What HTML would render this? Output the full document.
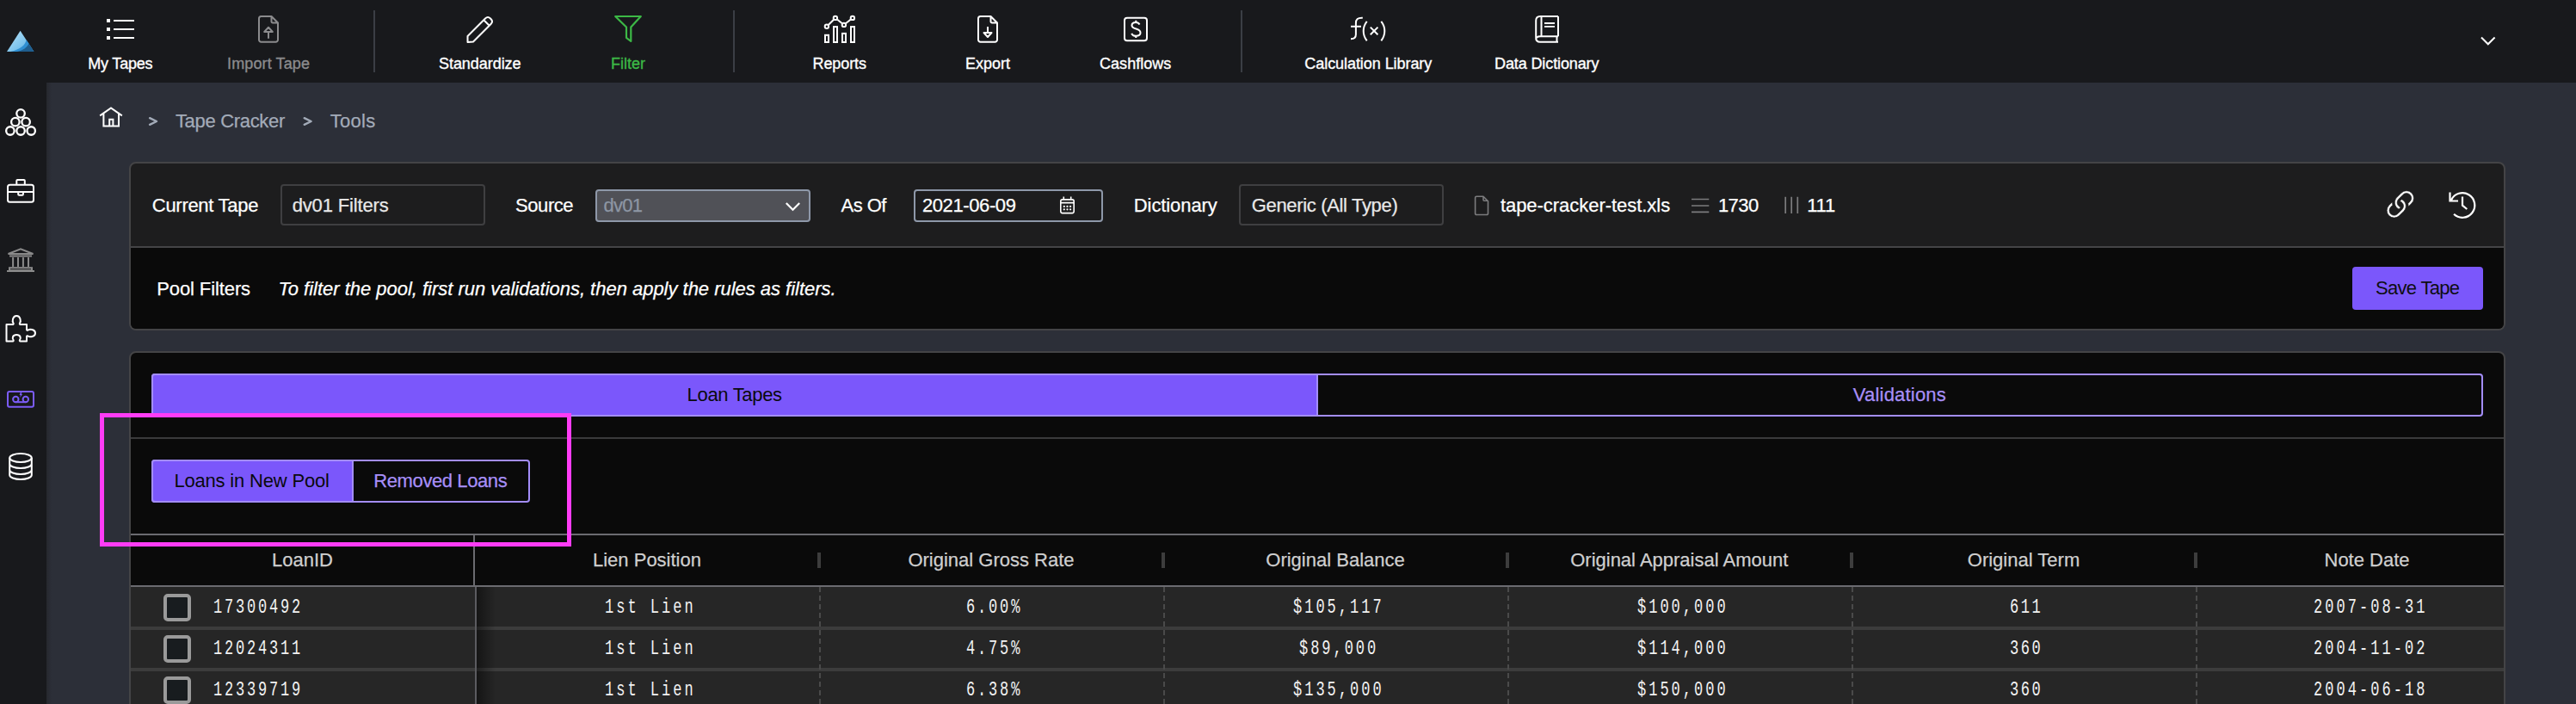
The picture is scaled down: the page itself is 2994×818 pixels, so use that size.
<!DOCTYPE html>
<html><head><meta charset="utf-8">
<style>
*{box-sizing:border-box;margin:0;padding:0}
html,body{width:2994px;height:818px;overflow:hidden;background:#2c2f38;font-family:"Liberation Sans",sans-serif}
.t{position:absolute;white-space:nowrap}
.b{position:absolute}
svg{position:absolute;overflow:visible}
</style></head><body>
<div class="b" style="left:0;top:0;width:54px;height:818px;background:#18191c"></div>
<div class="b" style="left:54px;top:0;width:2940px;height:96px;background:#18191c"></div>
<div class="b" style="left:54px;top:96px;width:6px;height:722px;background:linear-gradient(90deg,#26282e,#2c2f38)"></div>
<div class="b" style="left:434px;top:12px;width:2px;height:72px;background:#3b3e45"></div>
<div class="b" style="left:852px;top:12px;width:2px;height:72px;background:#3b3e45"></div>
<div class="b" style="left:1442px;top:12px;width:2px;height:72px;background:#3b3e45"></div>
<div class="t" style="left:102.3px;top:65.3px;font-size:18px;line-height:18px;color:#fff;letter-spacing:-0.20px;font-family:'Liberation Sans';-webkit-text-stroke:0.35px #fff;">My Tapes</div>
<div class="t" style="left:264.0px;top:65.3px;font-size:18px;line-height:18px;color:#8b8b8d;letter-spacing:0.13px;font-family:'Liberation Sans';-webkit-text-stroke:0.35px #8b8b8d;">Import Tape</div>
<div class="t" style="left:510.0px;top:65.3px;font-size:18px;line-height:18px;color:#fff;letter-spacing:-0.05px;font-family:'Liberation Sans';-webkit-text-stroke:0.35px #fff;">Standardize</div>
<div class="t" style="left:710.0px;top:65.3px;font-size:18px;line-height:18px;color:#3cb846;letter-spacing:0.00px;font-family:'Liberation Sans';-webkit-text-stroke:0.35px #3cb846;">Filter</div>
<div class="t" style="left:944.5px;top:65.3px;font-size:18px;line-height:18px;color:#fff;letter-spacing:-0.09px;font-family:'Liberation Sans';-webkit-text-stroke:0.35px #fff;">Reports</div>
<div class="t" style="left:1122.0px;top:65.3px;font-size:18px;line-height:18px;color:#fff;letter-spacing:0.00px;font-family:'Liberation Sans';-webkit-text-stroke:0.35px #fff;">Export</div>
<div class="t" style="left:1278.0px;top:65.3px;font-size:18px;line-height:18px;color:#fff;letter-spacing:0.04px;font-family:'Liberation Sans';-webkit-text-stroke:0.35px #fff;">Cashflows</div>
<div class="t" style="left:1516.3px;top:65.3px;font-size:18px;line-height:18px;color:#fff;letter-spacing:-0.06px;font-family:'Liberation Sans';-webkit-text-stroke:0.35px #fff;">Calculation Library</div>
<div class="t" style="left:1737.0px;top:65.3px;font-size:18px;line-height:18px;color:#fff;letter-spacing:-0.11px;font-family:'Liberation Sans';-webkit-text-stroke:0.35px #fff;">Data Dictionary</div>
<div class="t" style="left:203.9px;top:130.0px;font-size:22px;line-height:22px;color:#a3abb8;letter-spacing:-0.31px;font-family:'Liberation Sans';-webkit-text-stroke:0.25px #a3abb8;">Tape Cracker</div>
<div class="t" style="left:383.7px;top:130.0px;font-size:22px;line-height:22px;color:#a3abb8;letter-spacing:0.29px;font-family:'Liberation Sans';-webkit-text-stroke:0.25px #a3abb8;">Tools</div>
<div class="b" style="left:150px;top:188px;width:2762px;height:196px;border:2px solid #444446;border-radius:8px;background:#1d1d1e;overflow:hidden"><div class="b" style="left:0;top:96px;width:2762px;height:98px;background:#0a0a0a;border-top:2px solid #444446"></div></div>
<div class="t" style="left:176.8px;top:228.0px;font-size:22px;line-height:22px;color:#fff;letter-spacing:-0.29px;font-family:'Liberation Sans';-webkit-text-stroke:0.25px #fff;">Current Tape</div>
<div class="b" style="left:326px;top:214px;width:238px;height:48px;border:2px solid #3f3f41;border-radius:4px"></div>
<div class="t" style="left:339.7px;top:228.0px;font-size:22px;line-height:22px;color:#e8e8e8;letter-spacing:-0.15px;font-family:'Liberation Sans';-webkit-text-stroke:0.25px #e8e8e8;">dv01 Filters</div>
<div class="t" style="left:599.0px;top:228.0px;font-size:22px;line-height:22px;color:#fff;letter-spacing:-0.42px;font-family:'Liberation Sans';-webkit-text-stroke:0.25px #fff;">Source</div>
<div class="b" style="left:692px;top:220px;width:250px;height:38px;border:2px solid #8e98a9;border-radius:4px;background:#505157"></div>
<div class="t" style="left:701.6px;top:228.0px;font-size:22px;line-height:22px;color:#8d96a4;letter-spacing:-0.80px;font-family:'Liberation Sans';-webkit-text-stroke:0.25px #8d96a4;">dv01</div>
<div class="t" style="left:977.5px;top:228.0px;font-size:22px;line-height:22px;color:#fff;letter-spacing:-0.51px;font-family:'Liberation Sans';-webkit-text-stroke:0.25px #fff;">As Of</div>
<div class="b" style="left:1062px;top:220px;width:220px;height:38px;border:2px solid #8e98a9;border-radius:4px;background:#1d1d1e"></div>
<div class="t" style="left:1071.9px;top:228.0px;font-size:22px;line-height:22px;color:#fff;letter-spacing:-0.39px;font-family:'Liberation Sans';-webkit-text-stroke:0.25px #fff;">2021-06-09</div>
<div class="t" style="left:1317.8px;top:228.0px;font-size:22px;line-height:22px;color:#fff;letter-spacing:-0.09px;font-family:'Liberation Sans';-webkit-text-stroke:0.25px #fff;">Dictionary</div>
<div class="b" style="left:1440px;top:214px;width:238px;height:48px;border:2px solid #3f3f41;border-radius:4px"></div>
<div class="t" style="left:1454.7px;top:228.0px;font-size:22px;line-height:22px;color:#e8e8e8;letter-spacing:-0.33px;font-family:'Liberation Sans';-webkit-text-stroke:0.25px #e8e8e8;">Generic (All Type)</div>
<div class="t" style="left:1743.9px;top:228.0px;font-size:22px;line-height:22px;color:#fff;letter-spacing:-0.04px;font-family:'Liberation Sans';-webkit-text-stroke:0.25px #fff;">tape-cracker-test.xls</div>
<div class="t" style="left:1996.9px;top:228.0px;font-size:22px;line-height:22px;color:#fff;letter-spacing:-0.55px;font-family:'Liberation Sans';-webkit-text-stroke:0.25px #fff;">1730</div>
<div class="t" style="left:2100.3px;top:228.0px;font-size:22px;line-height:22px;color:#fff;letter-spacing:-0.28px;font-family:'Liberation Sans';-webkit-text-stroke:0.25px #fff;">111</div>
<div class="t" style="left:182.2px;top:324.5px;font-size:22px;line-height:22px;color:#fff;letter-spacing:-0.10px;font-family:'Liberation Sans';-webkit-text-stroke:0.25px #fff;">Pool Filters</div>
<div class="t" style="left:323.4px;top:324.5px;font-size:22px;line-height:22px;color:#fff;letter-spacing:-0.02px;font-family:'Liberation Sans';-webkit-text-stroke:0.25px #fff;font-style:italic;">To filter the pool, first run validations, then apply the rules as filters.</div>
<div class="b" style="left:2734px;top:310px;width:152px;height:50px;background:#7b57fb;border-radius:4px"></div>
<div class="t" style="left:2760.9px;top:323.8px;font-size:22px;line-height:22px;color:#0e0e12;letter-spacing:-0.67px;font-family:'Liberation Sans';-webkit-text-stroke:0;">Save Tape</div>
<div class="b" style="left:150px;top:408px;width:2762px;height:500px;border:2px solid #444446;border-radius:8px;background:#0a0a0a;overflow:hidden"></div>
<div class="b" style="left:176px;top:434px;width:2710px;height:50px;border:2px solid #a38df9;border-radius:4px;background:#0a0a0a"></div>
<div class="b" style="left:176px;top:434px;width:1356px;height:50px;border:2px solid #a38df9;border-radius:4px 0 0 4px;background:#7b57fb"></div>
<div class="t" style="left:798.6px;top:448.0px;font-size:22px;line-height:22px;color:#0a0a0e;letter-spacing:-0.32px;font-family:'Liberation Sans';-webkit-text-stroke:0;">Loan Tapes</div>
<div class="t" style="left:2153.8px;top:448.0px;font-size:22px;line-height:22px;color:#a88ff8;letter-spacing:0.20px;font-family:'Liberation Sans';-webkit-text-stroke:0.25px #a88ff8;">Validations</div>
<div class="b" style="left:152px;top:508px;width:2758px;height:2px;background:#3a3a3b"></div>
<div class="b" style="left:176px;top:534px;width:440px;height:50px;border:2px solid #a38df9;border-radius:4px;background:#0a0a0a"></div>
<div class="b" style="left:176px;top:534px;width:235px;height:50px;border:2px solid #a38df9;border-radius:4px 0 0 4px;background:#7b57fb"></div>
<div class="t" style="left:202.4px;top:548.0px;font-size:22px;line-height:22px;color:#0a0a0e;letter-spacing:-0.18px;font-family:'Liberation Sans';-webkit-text-stroke:0;">Loans in New Pool</div>
<div class="t" style="left:434.3px;top:548.0px;font-size:22px;line-height:22px;color:#a88ff8;letter-spacing:-0.40px;font-family:'Liberation Sans';-webkit-text-stroke:0.25px #a88ff8;">Removed Loans</div>
<div class="b" style="left:152px;top:620px;width:2758px;height:2px;background:#6b6b70"></div>
<div class="b" style="left:152px;top:682px;width:2758px;height:136px;background:#262626"></div>
<div class="b" style="left:152px;top:680px;width:2758px;height:2px;background:#6b6b70"></div>
<div class="b" style="left:152px;top:728px;width:2758px;height:4px;background:#3c3c3c"></div>
<div class="b" style="left:152px;top:776px;width:2758px;height:4px;background:#3c3c3c"></div>
<div class="b" style="left:550px;top:622px;width:2px;height:58px;background:#6b6b70"></div>
<div class="b" style="left:552px;top:682px;width:2px;height:136px;background:#5c5c60"></div>
<div class="b" style="left:554px;top:682px;width:22px;height:136px;background:linear-gradient(90deg,rgba(0,0,0,.45),rgba(0,0,0,0))"></div>
<div class="b" style="left:950px;top:642px;width:4px;height:18px;background:#3d3d3d"></div>
<div class="b" style="left:952px;top:682px;width:2px;height:136px;background:repeating-linear-gradient(180deg,#4a4a4a 0 6px,transparent 6px 10px)"></div>
<div class="b" style="left:1350px;top:642px;width:4px;height:18px;background:#3d3d3d"></div>
<div class="b" style="left:1352px;top:682px;width:2px;height:136px;background:repeating-linear-gradient(180deg,#4a4a4a 0 6px,transparent 6px 10px)"></div>
<div class="b" style="left:1750px;top:642px;width:4px;height:18px;background:#3d3d3d"></div>
<div class="b" style="left:1752px;top:682px;width:2px;height:136px;background:repeating-linear-gradient(180deg,#4a4a4a 0 6px,transparent 6px 10px)"></div>
<div class="b" style="left:2150px;top:642px;width:4px;height:18px;background:#3d3d3d"></div>
<div class="b" style="left:2152px;top:682px;width:2px;height:136px;background:repeating-linear-gradient(180deg,#4a4a4a 0 6px,transparent 6px 10px)"></div>
<div class="b" style="left:2550px;top:642px;width:4px;height:18px;background:#3d3d3d"></div>
<div class="b" style="left:2552px;top:682px;width:2px;height:136px;background:repeating-linear-gradient(180deg,#4a4a4a 0 6px,transparent 6px 10px)"></div>
<div class="t" style="left:316.0px;top:640.3px;font-size:22px;line-height:22px;color:#cfcfcf;letter-spacing:0.00px;font-family:'Liberation Sans';-webkit-text-stroke:0.25px #cfcfcf;">LoanID</div>
<div class="t" style="left:689.0px;top:640.3px;font-size:22px;line-height:22px;color:#cfcfcf;letter-spacing:0.00px;font-family:'Liberation Sans';-webkit-text-stroke:0.25px #cfcfcf;">Lien Position</div>
<div class="t" style="left:1055.4px;top:640.3px;font-size:22px;line-height:22px;color:#cfcfcf;letter-spacing:0.00px;font-family:'Liberation Sans';-webkit-text-stroke:0.25px #cfcfcf;">Original Gross Rate</div>
<div class="t" style="left:1471.3px;top:640.3px;font-size:22px;line-height:22px;color:#cfcfcf;letter-spacing:0.00px;font-family:'Liberation Sans';-webkit-text-stroke:0.25px #cfcfcf;">Original Balance</div>
<div class="t" style="left:1825.2px;top:640.3px;font-size:22px;line-height:22px;color:#cfcfcf;letter-spacing:0.00px;font-family:'Liberation Sans';-webkit-text-stroke:0.25px #cfcfcf;">Original Appraisal Amount</div>
<div class="t" style="left:2286.8px;top:640.3px;font-size:22px;line-height:22px;color:#cfcfcf;letter-spacing:0.00px;font-family:'Liberation Sans';-webkit-text-stroke:0.25px #cfcfcf;">Original Term</div>
<div class="t" style="left:2701.5px;top:640.3px;font-size:22px;line-height:22px;color:#cfcfcf;letter-spacing:0.00px;font-family:'Liberation Sans';-webkit-text-stroke:0.25px #cfcfcf;">Note Date</div>
<div class="b" style="left:190px;top:690px;width:32px;height:32px;border:4px solid #9a9a9a;border-radius:5px;background:#181c1f"></div>
<div class="t" style="left:248.3px;top:695.0px;font-size:23px;line-height:23px;color:#f2f2f2;letter-spacing:3.78px;font-family:'Liberation Mono';transform:scaleX(0.74);transform-origin:0 0;">17300492</div>
<div class="t" style="left:702.7px;top:695.0px;font-size:23px;line-height:23px;color:#f2f2f2;letter-spacing:4.04px;font-family:'Liberation Mono';transform:scaleX(0.74);transform-origin:0 0;">1st Lien</div>
<div class="t" style="left:1122.8px;top:695.0px;font-size:23px;line-height:23px;color:#f2f2f2;letter-spacing:3.82px;font-family:'Liberation Mono';transform:scaleX(0.74);transform-origin:0 0;">6.00%</div>
<div class="t" style="left:1503.0px;top:695.0px;font-size:23px;line-height:23px;color:#f2f2f2;letter-spacing:4.04px;font-family:'Liberation Mono';transform:scaleX(0.74);transform-origin:0 0;">$105,117</div>
<div class="t" style="left:1902.5px;top:695.0px;font-size:23px;line-height:23px;color:#f2f2f2;letter-spacing:4.04px;font-family:'Liberation Mono';transform:scaleX(0.74);transform-origin:0 0;">$100,000</div>
<div class="t" style="left:2335.9px;top:695.0px;font-size:23px;line-height:23px;color:#f2f2f2;letter-spacing:3.35px;font-family:'Liberation Mono';transform:scaleX(0.74);transform-origin:0 0;">611</div>
<div class="t" style="left:2689.0px;top:695.0px;font-size:23px;line-height:23px;color:#f2f2f2;letter-spacing:4.10px;font-family:'Liberation Mono';transform:scaleX(0.74);transform-origin:0 0;">2007-08-31</div>
<div class="b" style="left:190px;top:738px;width:32px;height:32px;border:4px solid #9a9a9a;border-radius:5px;background:#181c1f"></div>
<div class="t" style="left:248.3px;top:743.0px;font-size:23px;line-height:23px;color:#f2f2f2;letter-spacing:3.78px;font-family:'Liberation Mono';transform:scaleX(0.74);transform-origin:0 0;">12024311</div>
<div class="t" style="left:702.7px;top:743.0px;font-size:23px;line-height:23px;color:#f2f2f2;letter-spacing:4.04px;font-family:'Liberation Mono';transform:scaleX(0.74);transform-origin:0 0;">1st Lien</div>
<div class="t" style="left:1122.8px;top:743.0px;font-size:23px;line-height:23px;color:#f2f2f2;letter-spacing:3.82px;font-family:'Liberation Mono';transform:scaleX(0.74);transform-origin:0 0;">4.75%</div>
<div class="t" style="left:1509.7px;top:743.0px;font-size:23px;line-height:23px;color:#f2f2f2;letter-spacing:3.99px;font-family:'Liberation Mono';transform:scaleX(0.74);transform-origin:0 0;">$89,000</div>
<div class="t" style="left:1902.5px;top:743.0px;font-size:23px;line-height:23px;color:#f2f2f2;letter-spacing:4.04px;font-family:'Liberation Mono';transform:scaleX(0.74);transform-origin:0 0;">$114,000</div>
<div class="t" style="left:2335.9px;top:743.0px;font-size:23px;line-height:23px;color:#f2f2f2;letter-spacing:3.35px;font-family:'Liberation Mono';transform:scaleX(0.74);transform-origin:0 0;">360</div>
<div class="t" style="left:2689.0px;top:743.0px;font-size:23px;line-height:23px;color:#f2f2f2;letter-spacing:4.10px;font-family:'Liberation Mono';transform:scaleX(0.74);transform-origin:0 0;">2004-11-02</div>
<div class="b" style="left:190px;top:786px;width:32px;height:32px;border:4px solid #9a9a9a;border-radius:5px;background:#181c1f"></div>
<div class="t" style="left:248.3px;top:791.0px;font-size:23px;line-height:23px;color:#f2f2f2;letter-spacing:3.78px;font-family:'Liberation Mono';transform:scaleX(0.74);transform-origin:0 0;">12339719</div>
<div class="t" style="left:702.7px;top:791.0px;font-size:23px;line-height:23px;color:#f2f2f2;letter-spacing:4.04px;font-family:'Liberation Mono';transform:scaleX(0.74);transform-origin:0 0;">1st Lien</div>
<div class="t" style="left:1122.8px;top:791.0px;font-size:23px;line-height:23px;color:#f2f2f2;letter-spacing:3.82px;font-family:'Liberation Mono';transform:scaleX(0.74);transform-origin:0 0;">6.38%</div>
<div class="t" style="left:1503.0px;top:791.0px;font-size:23px;line-height:23px;color:#f2f2f2;letter-spacing:4.04px;font-family:'Liberation Mono';transform:scaleX(0.74);transform-origin:0 0;">$135,000</div>
<div class="t" style="left:1902.5px;top:791.0px;font-size:23px;line-height:23px;color:#f2f2f2;letter-spacing:4.04px;font-family:'Liberation Mono';transform:scaleX(0.74);transform-origin:0 0;">$150,000</div>
<div class="t" style="left:2335.9px;top:791.0px;font-size:23px;line-height:23px;color:#f2f2f2;letter-spacing:3.35px;font-family:'Liberation Mono';transform:scaleX(0.74);transform-origin:0 0;">360</div>
<div class="t" style="left:2689.0px;top:791.0px;font-size:23px;line-height:23px;color:#f2f2f2;letter-spacing:4.10px;font-family:'Liberation Mono';transform:scaleX(0.74);transform-origin:0 0;">2004-06-18</div>
<div class="b" style="left:116px;top:480px;width:548px;height:155px;border:5px solid #ff3cf6"></div>
<svg style="left:0;top:0" width="2994" height="818" viewBox="0 0 2994 818">
<defs><linearGradient id="lg" x1="0" y1="0" x2="1" y2="1"><stop offset="0" stop-color="#b9e3f8"/><stop offset="0.6" stop-color="#7cc3ec"/><stop offset="1" stop-color="#3d9ad6"/></linearGradient></defs>
<path d="M8,60 L23.6,35.8 L39.4,60 Z" fill="url(#lg)"/>
<path d="M39.4,60 L30.5,46 C30,52 24,57.5 12,60 Z" fill="#2f8fd2"/>
<path d="M39.4,60 L33.5,50.5 C31.5,55 27,58.5 20,60 Z" fill="#1f5e8e"/>
<g fill="none" stroke="#ffffff" stroke-width="2.3"><circle cx="24.05" cy="131.8" r="4.75"/><circle cx="17.85" cy="141.7" r="4.75"/><circle cx="30.1" cy="141.7" r="4.75"/><circle cx="11.9" cy="152" r="4.75"/><circle cx="24.05" cy="152" r="4.75"/><circle cx="36.2" cy="152" r="4.75"/></g>
<g fill="none" stroke="#ffffff" stroke-width="2"><rect x="9" y="214.7" width="30" height="20.1" rx="2.5"/><path d="M19.3,214.7 V210 a1,1 0 0 1 1,-1 H27.8 a1,1 0 0 1 1,1 V214.7 M9,223 H39"/><rect x="21.2" y="223" width="5.7" height="3.8" rx="1"/></g>
<g fill="none" stroke="#8a8a8a" stroke-width="2"><path d="M9.5,295 L24,289.3 L38.5,295 Z M11,297.6 H37 M15.1,299 V310 M21,299 V310 M26.9,299 V310 M33,299 V310"/><rect x="11" y="311.2" width="26" height="3"/><path d="M8,315 H40"/></g>
<path fill="none" stroke="#ffffff" stroke-width="2" stroke-linejoin="round" d="M7.5,377 H15 C15.5,377 16,376.5 15.5,375.5 C14,373.5 14.5,367 19.3,367 C24,367 24.5,373.5 23,375.5 C22.5,376.5 23,377 23.5,377 H31 V383 C31,383.5 31.5,384 32.5,383.5 C34.5,382 41,382.5 41,387 C41,391.5 34.5,392 32.5,390.5 C31.5,390 31,390.5 31,391 V396.5 H23.5 C23,396.5 22.5,396 23,395 C24.5,393 24,389 19.3,389 C14.5,389 14,393 15.5,395 C16,396 15.5,396.5 15,396.5 H7.5 Z"/>
<g fill="none" stroke="#7b5cf6" stroke-width="2"><rect x="9" y="455" width="30" height="17.7" rx="2"/><circle cx="18.3" cy="464" r="3.2"/><circle cx="29.8" cy="464" r="3.2"/><path d="M18.3,467.2 H29.8"/></g>
<path fill="#7b5cf6" d="M24.2,455 L25.6,455 L24.6,457.8 L26.2,457.8 L23.2,462 L23.9,459 L22.6,459 Z"/>
<g fill="none" stroke="#ffffff" stroke-width="2"><ellipse cx="24" cy="532" rx="12.8" ry="5"/><path d="M11.2,532 V552 M36.8,532 V552 M11.2,539 A12.8,5 0 0 0 36.8,539 M11.2,546 A12.8,5 0 0 0 36.8,546 M11.2,552 A12.8,5 0 0 0 36.8,552"/></g>
<g fill="#ffffff"><rect x="124" y="22" width="4" height="4"/><rect x="132" y="23" width="24" height="2"/><rect x="124" y="32" width="4" height="4"/><rect x="132" y="33" width="24" height="2"/><rect x="124" y="42" width="4" height="4"/><rect x="132" y="43" width="24" height="2"/></g>
<g fill="none" stroke="#8b8b8d" stroke-width="2" stroke-linejoin="round"><path d="M301,21.5 a2.5,2.5 0 0 1 2.5,-2.5 H315.5 L323,26.5 V46.3 a2.5,2.5 0 0 1 -2.5,2.5 H303.5 a2.5,2.5 0 0 1 -2.5,-2.5 Z M315.5,19 V25 a1.5,1.5 0 0 0 1.5,1.5 H323"/><path d="M307.2,37 L312,31.8 L316.8,37 Z M312,37 V44.8"/></g>
<path fill="none" stroke="#ffffff" stroke-width="2" stroke-linejoin="round" d="M543.5,42 L564,21.5 Q567,18.5 570,21.5 L570.5,22 Q573.5,25 570.5,28 L550,48.5 L543.5,49 Z M562.5,23.5 L568.5,29.5"/>
<path fill="none" stroke="#3cb846" stroke-width="2.2" stroke-linejoin="round" d="M715.2,19 H744.8 L733.3,31.5 V48 L728,43.8 V31.5 Z"/>
<g fill="none" stroke="#ffffff" stroke-width="2"><rect x="959" y="40.8" width="4" height="8.2"/><rect x="969" y="31.1" width="4" height="17.9"/><rect x="979" y="38.9" width="4" height="10.1"/><rect x="989" y="31.1" width="4" height="17.9"/><circle cx="960.9" cy="30.75" r="2.2"/><circle cx="970.9" cy="20.9" r="2.2"/><circle cx="980.9" cy="28.9" r="2.2"/><circle cx="990.9" cy="20.9" r="2.2"/><path d="M962.5,29.2 L969.3,22.5 M972.6,22.2 L979.2,27.6 M982.6,27.6 L989.2,22.2"/></g>
<g fill="none" stroke="#ffffff" stroke-width="2" stroke-linejoin="round"><path d="M1137,21.5 a2.5,2.5 0 0 1 2.5,-2.5 H1151.5 L1159,26.5 V46.3 a2.5,2.5 0 0 1 -2.5,2.5 H1139.5 a2.5,2.5 0 0 1 -2.5,-2.5 Z M1151.5,19 V25 a1.5,1.5 0 0 0 1.5,1.5 H1159"/><path d="M1148,31 V38 M1143.5,38 H1152.5 L1148,43 Z"/></g>
<g fill="none" stroke="#ffffff" stroke-width="2"><rect x="1307" y="20.8" width="26" height="26.5" rx="3"/><path d="M1324.5,28.5 C1323.5,26.5 1322,26 1320,26 C1317,26 1315.5,27.5 1315.5,29.5 C1315.5,32 1318,32.8 1320.5,33.5 C1323.5,34.3 1325.5,35.5 1325.5,38 C1325.5,40.5 1323.2,41.8 1320.2,41.8 C1317.8,41.8 1316,40.8 1315.2,38.8 M1320.3,23.8 V26 M1320.3,41.8 V44"/></g>
<g fill="none" stroke="#ffffff" stroke-width="2" stroke-linecap="butt"><path d="M1583.8,20.8 C1578,20.5 1575.9,22.5 1575.9,27 V40 C1575.9,44 1574,45.2 1570,45.2 M1570,30.75 H1582"/><path d="M1588.7,24.8 C1585.8,28.5 1584.7,32 1584.7,35.9 C1584.7,40 1585.8,43.5 1588.7,47.3 M1592.8,31.6 L1601.4,40.2 M1601.4,31.6 L1592.8,40.2 M1605.3,24.8 C1608.2,28.5 1609.3,32 1609.3,35.9 C1609.3,40 1608.2,43.5 1605.3,47.3"/></g>
<g fill="none" stroke="#ffffff" stroke-width="2"><path d="M1811,19 H1790 Q1785.2,19 1785.2,24 V44 Q1785.2,48.8 1790,48.8 H1811 M1811,19 V42.2 M1791.5,19 V42.2 M1811,42.2 H1790 Q1785.2,42.2 1785.2,46 M1809.5,42.2 V48.8"/><path d="M1795,27 H1807 M1795,30.8 H1807" stroke-width="1.8"/></g>
<path fill="none" stroke="#ffffff" stroke-width="2" d="M2884,43.5 L2891.8,51.3 L2899.6,43.5"/>
<path fill="none" stroke="#ffffff" stroke-width="2" d="M116.2,134.4 L129,125.4 L141.8,134.4 M120.4,130.8 V146.4 H138 V130.8 M127.2,146.4 V138.7 H131.4 V146.4"/>
<path fill="none" stroke="#a3abb8" stroke-width="2.4" stroke-linecap="round" stroke-linejoin="round" d="M174.1,137.2 L182,141 L174.1,144.8 M353.7,137.2 L361.6,141 L353.7,144.8"/>
<path fill="none" stroke="#ffffff" stroke-width="2.2" d="M913.8,236 L921.5,243.7 L929.2,236"/>
<g fill="none" stroke="#ffffff" stroke-width="1.6"><rect x="1232.8" y="231.9" width="15.4" height="15.7" rx="2"/><path d="M1232.8,235.6 H1248.2 M1236.3,228.6 V231.5 M1244.7,228.6 V231.5"/></g><g fill="#ffffff"><circle cx="1236.8" cy="239.9" r="1.15"/><circle cx="1236.8" cy="243.3" r="1.15"/><circle cx="1240.5" cy="239.9" r="1.15"/><circle cx="1240.5" cy="243.3" r="1.15"/><circle cx="1244.1" cy="239.9" r="1.15"/><circle cx="1244.1" cy="243.3" r="1.15"/></g>
<g fill="none" stroke="#7c7c7e" stroke-width="1.6" stroke-linejoin="round"><path d="M1714.6,229.8 a1.5,1.5 0 0 1 1.5,-1.5 H1724 L1729.5,233.8 V248 a1.5,1.5 0 0 1 -1.5,1.5 H1716.1 a1.5,1.5 0 0 1 -1.5,-1.5 Z M1724,228.3 V232.3 a1,1 0 0 0 1,1 H1729.5"/></g>
<g fill="none" stroke="#7c7c7e" stroke-width="1.7"><path d="M1966,231.5 H1986.3 M1966,239 H1986.3 M1966,246.3 H1986.3 M2075.2,228.8 V247.9 M2082.2,228.8 V247.9 M2089.3,228.8 V247.9"/></g>
<g transform="translate(2767.2,216.15) scale(2.83)" fill="#ffffff" stroke="#1d1d1e" stroke-width="0.22"><path d="M4.715 6.542 3.343 7.914a3 3 0 1 0 4.243 4.243l1.828-1.829A3 3 0 0 0 8.586 5.5L8 6.086a1.002 1.002 0 0 0-.154.199 2 2 0 0 1 .861 3.337L6.88 11.45a2 2 0 1 1-2.83-2.83l.793-.792a4.018 4.018 0 0 1-.128-1.287z"/><path d="M6.586 4.672A3 3 0 0 0 7.414 9.5l.775-.776a2 2 0 0 1-.896-3.346L9.12 3.55a2 2 0 1 1 2.83 2.83l-.793.792c.112.42.155.855.128 1.287l1.372-1.372a3 3 0 1 0-4.243-4.243L6.586 4.672z"/></g>
<g fill="none" stroke="#ffffff" stroke-width="2.2"><path d="M2852.07,248.79 A14.3,14.3 0 1 0 2849.04,232.46 M2847.5,223.5 V233.5 H2857 M2862,228.5 V238.7 L2867.3,243"/></g>
</svg>
</body></html>
